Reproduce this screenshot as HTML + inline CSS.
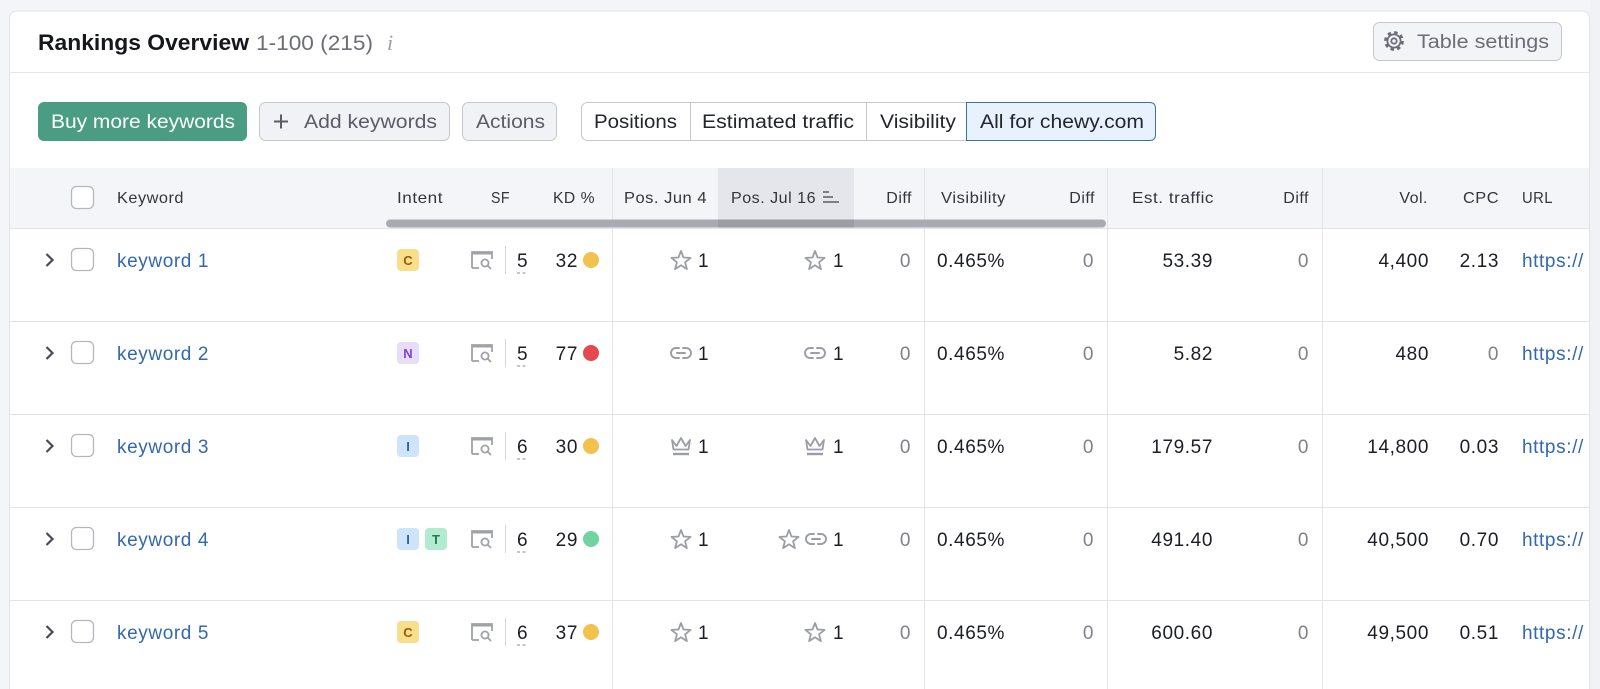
<!DOCTYPE html>
<html><head><meta charset="utf-8"><style>
html,body{margin:0;padding:0;background:#f4f5f8;}
svg{display:block;}
text{font-family:"Liberation Sans",Arial,sans-serif;}
.d{font-size:19px;fill:#1c1e26;letter-spacing:0.6px;}
.g{font-size:19px;fill:#80828b;letter-spacing:0.6px;}
.lnk{font-size:19px;fill:#3468ad;letter-spacing:0.6px;}
.h{font-size:16px;fill:#33353e;letter-spacing:0.5px;}
.b{font-size:19px;}
.bdg{font-size:13px;font-weight:bold;}
</style></head><body>
<svg width="1600" height="689" viewBox="0 0 1600 689" xmlns="http://www.w3.org/2000/svg">
<defs>
<g id="star"><polygon transform="translate(0,1)" points="0,-10 2.53,-3.48 9.51,-3.09 4.09,1.33 5.88,8.09 0,4.3 -5.88,8.09 -4.09,1.33 -9.51,-3.09 -2.53,-3.48" fill="none" stroke="#9c9ea6" stroke-width="1.8" stroke-linejoin="round"/></g>
<g id="link"><path d="M-2,-5 H-5 A5,5 0 0 0 -5,5 H-2 M2,-5 H5 A5,5 0 0 1 5,5 H2 M-4,0 H4" fill="none" stroke="#9c9ea6" stroke-width="1.9" stroke-linecap="round"/></g>
<g id="crown"><path d="M-9,-6 L-4.5,0 L0,-8 L4.5,0 L9,-6 L7.5,3.5 L-7.5,3.5 Z" fill="none" stroke="#9c9ea6" stroke-width="1.8" stroke-linejoin="round"/><path d="M-8,8 H8" stroke="#9c9ea6" stroke-width="2.4"/></g>
<g id="sf"><path d="M-10,8 V-8 H10 V-1" fill="none" stroke="#a0a2aa" stroke-width="1.8"/><path d="M-10,-7 H10" stroke="#a0a2aa" stroke-width="3"/><path d="M-10,8 H-3" stroke="#a0a2aa" stroke-width="1.8"/><circle cx="3" cy="3" r="3.6" fill="none" stroke="#a0a2aa" stroke-width="1.8"/><path d="M5.6,5.6 L8.5,8.5" stroke="#a0a2aa" stroke-width="1.8" stroke-linecap="round"/></g>
</defs>

<rect width="1600" height="689" fill="#f4f5f8"/>
<!-- card -->
<path d="M9.5,689 V19 Q9.5,11 17.5,11 H1581.5 Q1589.5,11 1589.5,19 V689" fill="#ffffff" stroke="#e2e3e8"/>

<!-- title -->
<text x="38" y="50" font-size="22.5" font-weight="bold" fill="#16171d" textLength="211" lengthAdjust="spacingAndGlyphs">Rankings Overview</text>
<text x="256" y="50" font-size="21" fill="#6c6e78" textLength="117" lengthAdjust="spacingAndGlyphs">1-100 (215)</text>
<text x="387" y="50" font-size="22" fill="#a0a2aa" font-style="italic" style="font-family:'Liberation Serif',serif">i</text>

<!-- table settings -->
<rect x="1373.5" y="22.5" width="188" height="38" rx="6" fill="#f3f4f7" stroke="#c6c8ce"/>
<circle cx="1394" cy="41" r="8.3" fill="none" stroke="#6b6d77" stroke-width="3.2" stroke-dasharray="3.4 3.1"/>
<circle cx="1394" cy="41" r="6.6" fill="none" stroke="#6b6d77" stroke-width="1.8"/>
<circle cx="1394" cy="41" r="2.7" fill="none" stroke="#6b6d77" stroke-width="1.8"/>
<text x="1417" y="48" class="b" fill="#6b6d77" textLength="132" lengthAdjust="spacingAndGlyphs">Table settings</text>

<line x1="10" y1="72.5" x2="1589" y2="72.5" stroke="#e6e7eb"/>

<!-- buttons -->
<rect x="38" y="102" width="209" height="39" rx="6" fill="#4a9d82"/>
<text x="51" y="128" class="b" fill="#ffffff" textLength="184" lengthAdjust="spacingAndGlyphs">Buy more keywords</text>

<rect x="259.5" y="102.5" width="190" height="38" rx="6" fill="#f1f2f5" stroke="#c6c8ce"/>
<path d="M274,121.5 H288 M281,114.5 V128.5" stroke="#5a5c66" stroke-width="2"/>
<text x="304" y="128" class="b" fill="#5a5c66" textLength="133" lengthAdjust="spacingAndGlyphs">Add keywords</text>

<rect x="462.5" y="102.5" width="94" height="38" rx="6" fill="#f1f2f5" stroke="#c6c8ce"/>
<text x="476" y="128" class="b" fill="#5a5c66" textLength="69" lengthAdjust="spacingAndGlyphs">Actions</text>

<rect x="581.5" y="102.5" width="574" height="38" rx="6" fill="#ffffff" stroke="#c6c8ce"/>
<line x1="690.5" y1="103" x2="690.5" y2="140" stroke="#c6c8ce"/>
<line x1="866.5" y1="103" x2="866.5" y2="140" stroke="#c6c8ce"/>
<path d="M966.5,102.5 H1149.5 Q1155.5,102.5 1155.5,108.5 V134.5 Q1155.5,140.5 1149.5,140.5 H966.5 Z" fill="#e8f2fe" stroke="#3d6fae"/>
<text x="594" y="128" class="b" fill="#24262e" textLength="83" lengthAdjust="spacingAndGlyphs">Positions</text>
<text x="702" y="128" class="b" fill="#24262e" textLength="152" lengthAdjust="spacingAndGlyphs">Estimated traffic</text>
<text x="880" y="128" class="b" fill="#24262e" textLength="76" lengthAdjust="spacingAndGlyphs">Visibility</text>
<text x="980" y="128" class="b" fill="#24262e" textLength="164" lengthAdjust="spacingAndGlyphs">All for chewy.com</text>

<!-- table header -->
<rect x="10" y="168" width="1579" height="60" fill="#f4f5f9"/>
<rect x="718" y="168" width="136" height="60" fill="#e5e6eb"/>
<rect x="71.5" y="186.5" width="22" height="22" rx="5" fill="#ffffff" stroke="#b5b7be" stroke-width="1.3"/>
<text x="117" y="203" class="h" textLength="67" lengthAdjust="spacingAndGlyphs">Keyword</text>
<text x="397" y="203" class="h" textLength="46" lengthAdjust="spacingAndGlyphs">Intent</text>
<text x="491" y="203" class="h" textLength="19" lengthAdjust="spacingAndGlyphs">SF</text>
<text x="553" y="203" class="h" textLength="42" lengthAdjust="spacingAndGlyphs">KD %</text>
<text x="624" y="203" class="h" textLength="83" lengthAdjust="spacingAndGlyphs">Pos. Jun 4</text>
<text x="731" y="203" class="h" textLength="85" lengthAdjust="spacingAndGlyphs">Pos. Jul 16</text>
<path d="M823,192 H829 M823,197 H833 M823,202 H839" stroke="#7d7f88" stroke-width="2"/>
<text x="912" y="203" class="h" text-anchor="end">Diff</text>
<text x="941" y="203" class="h" textLength="65" lengthAdjust="spacingAndGlyphs">Visibility</text>
<text x="1095" y="203" class="h" text-anchor="end">Diff</text>
<text x="1132" y="203" class="h" textLength="82" lengthAdjust="spacingAndGlyphs">Est. traffic</text>
<text x="1309" y="203" class="h" text-anchor="end">Diff</text>
<text x="1428" y="203" class="h" text-anchor="end">Vol.</text>
<text x="1463" y="203" class="h" textLength="36" lengthAdjust="spacingAndGlyphs">CPC</text>
<text x="1522" y="203" class="h" textLength="31" lengthAdjust="spacingAndGlyphs">URL</text>

<!-- grid lines -->
<g stroke="#e3e4e8" stroke-width="1">
<line x1="612.5" y1="168" x2="612.5" y2="689"/>
<line x1="924.5" y1="168" x2="924.5" y2="689"/>
<line x1="1107.5" y1="168" x2="1107.5" y2="689"/>
<line x1="1322.5" y1="168" x2="1322.5" y2="689"/>
<line x1="10" y1="228.5" x2="1589" y2="228.5"/>
<line x1="10" y1="321.5" x2="1589" y2="321.5"/>
<line x1="10" y1="414.5" x2="1589" y2="414.5"/>
<line x1="10" y1="507.5" x2="1589" y2="507.5"/>
<line x1="10" y1="600.5" x2="1589" y2="600.5"/>
</g>

<!-- scrollbar -->
<rect x="386" y="219.5" width="720" height="8" rx="4" fill="#a9abb2"/>
<rect x="718" y="219.5" width="136" height="8" fill="#9c9ea5"/>

<!-- ROW 1 (c=260) -->
<g>
<path d="M46.5,254 L52.5,260 L46.5,266" fill="none" stroke="#4a4c55" stroke-width="2.2"/>
<rect x="71.5" y="248.5" width="22" height="22" rx="5" fill="#fff" stroke="#b5b7be" stroke-width="1.3"/>
<text x="117" y="267" class="lnk">keyword 1</text>
<rect x="397" y="249" width="22" height="22" rx="4" fill="#f9df8c"/><text x="408" y="265" text-anchor="middle" class="bdg" fill="#8f5e10">C</text>
<use href="#sf" x="482" y="260"/>
<line x1="505.5" y1="246" x2="505.5" y2="274" stroke="#d5d6db"/>
<text x="517" y="267" class="d" fill="#555">5</text><line x1="517" y1="273" x2="528" y2="273" stroke="#8a8c94" stroke-dasharray="3,2.5"/>
<text x="578" y="267" class="d" text-anchor="end">32</text><circle cx="591" cy="260" r="8" fill="#f2c14e"/>
<use href="#star" x="681" y="260"/><text x="698" y="267" class="d">1</text>
<use href="#star" x="815" y="260"/><text x="833" y="267" class="d">1</text>
<text x="911" y="267" class="g" text-anchor="end">0</text>
<text x="937" y="267" class="d">0.465%</text>
<text x="1094" y="267" class="g" text-anchor="end">0</text>
<text x="1213" y="267" class="d" text-anchor="end">53.39</text>
<text x="1309" y="267" class="g" text-anchor="end">0</text>
<text x="1429" y="267" class="d" text-anchor="end">4,400</text>
<text x="1499" y="267" class="d" text-anchor="end">2.13</text>
<text x="1522" y="267" class="lnk">https://</text>
</g>

<!-- ROW 2 (c=353) -->
<g>
<path d="M46.5,347 L52.5,353 L46.5,359" fill="none" stroke="#4a4c55" stroke-width="2.2"/>
<rect x="71.5" y="341.5" width="22" height="22" rx="5" fill="#fff" stroke="#b5b7be" stroke-width="1.3"/>
<text x="117" y="360" class="lnk">keyword 2</text>
<rect x="397" y="342" width="22" height="22" rx="4" fill="#e8dcfb"/><text x="408" y="358" text-anchor="middle" class="bdg" fill="#7a45d0">N</text>
<use href="#sf" x="482" y="353"/>
<line x1="505.5" y1="339" x2="505.5" y2="367" stroke="#d5d6db"/>
<text x="517" y="360" class="d" fill="#555">5</text><line x1="517" y1="366" x2="528" y2="366" stroke="#8a8c94" stroke-dasharray="3,2.5"/>
<text x="578" y="360" class="d" text-anchor="end">77</text><circle cx="591" cy="353" r="8" fill="#e5484d"/>
<use href="#link" x="681" y="353"/><text x="698" y="360" class="d">1</text>
<use href="#link" x="815" y="353"/><text x="833" y="360" class="d">1</text>
<text x="911" y="360" class="g" text-anchor="end">0</text>
<text x="937" y="360" class="d">0.465%</text>
<text x="1094" y="360" class="g" text-anchor="end">0</text>
<text x="1213" y="360" class="d" text-anchor="end">5.82</text>
<text x="1309" y="360" class="g" text-anchor="end">0</text>
<text x="1429" y="360" class="d" text-anchor="end">480</text>
<text x="1499" y="360" class="g" text-anchor="end">0</text>
<text x="1522" y="360" class="lnk">https://</text>
</g>

<!-- ROW 3 (c=446) -->
<g>
<path d="M46.5,440 L52.5,446 L46.5,452" fill="none" stroke="#4a4c55" stroke-width="2.2"/>
<rect x="71.5" y="434.5" width="22" height="22" rx="5" fill="#fff" stroke="#b5b7be" stroke-width="1.3"/>
<text x="117" y="453" class="lnk">keyword 3</text>
<rect x="397" y="435" width="22" height="22" rx="4" fill="#cde4fa"/><text x="408" y="451" text-anchor="middle" class="bdg" fill="#2c62a8">I</text>
<use href="#sf" x="482" y="446"/>
<line x1="505.5" y1="432" x2="505.5" y2="460" stroke="#d5d6db"/>
<text x="517" y="453" class="d" fill="#555">6</text><line x1="517" y1="459" x2="528" y2="459" stroke="#8a8c94" stroke-dasharray="3,2.5"/>
<text x="578" y="453" class="d" text-anchor="end">30</text><circle cx="591" cy="446" r="8" fill="#f2c14e"/>
<use href="#crown" x="681" y="446"/><text x="698" y="453" class="d">1</text>
<use href="#crown" x="815" y="446"/><text x="833" y="453" class="d">1</text>
<text x="911" y="453" class="g" text-anchor="end">0</text>
<text x="937" y="453" class="d">0.465%</text>
<text x="1094" y="453" class="g" text-anchor="end">0</text>
<text x="1213" y="453" class="d" text-anchor="end">179.57</text>
<text x="1309" y="453" class="g" text-anchor="end">0</text>
<text x="1429" y="453" class="d" text-anchor="end">14,800</text>
<text x="1499" y="453" class="d" text-anchor="end">0.03</text>
<text x="1522" y="453" class="lnk">https://</text>
</g>

<!-- ROW 4 (c=539) -->
<g>
<path d="M46.5,533 L52.5,539 L46.5,545" fill="none" stroke="#4a4c55" stroke-width="2.2"/>
<rect x="71.5" y="527.5" width="22" height="22" rx="5" fill="#fff" stroke="#b5b7be" stroke-width="1.3"/>
<text x="117" y="546" class="lnk">keyword 4</text>
<rect x="397" y="528" width="22" height="22" rx="4" fill="#cde4fa"/><text x="408" y="544" text-anchor="middle" class="bdg" fill="#2c62a8">I</text>
<rect x="425" y="528" width="22" height="22" rx="4" fill="#b2ebcf"/><text x="436" y="544" text-anchor="middle" class="bdg" fill="#257a50">T</text>
<use href="#sf" x="482" y="539"/>
<line x1="505.5" y1="525" x2="505.5" y2="553" stroke="#d5d6db"/>
<text x="517" y="546" class="d" fill="#555">6</text><line x1="517" y1="552" x2="528" y2="552" stroke="#8a8c94" stroke-dasharray="3,2.5"/>
<text x="578" y="546" class="d" text-anchor="end">29</text><circle cx="591" cy="539" r="8" fill="#6fd4a0"/>
<use href="#star" x="681" y="539"/><text x="698" y="546" class="d">1</text>
<use href="#star" x="789" y="539"/><use href="#link" x="816" y="539"/><text x="833" y="546" class="d">1</text>
<text x="911" y="546" class="g" text-anchor="end">0</text>
<text x="937" y="546" class="d">0.465%</text>
<text x="1094" y="546" class="g" text-anchor="end">0</text>
<text x="1213" y="546" class="d" text-anchor="end">491.40</text>
<text x="1309" y="546" class="g" text-anchor="end">0</text>
<text x="1429" y="546" class="d" text-anchor="end">40,500</text>
<text x="1499" y="546" class="d" text-anchor="end">0.70</text>
<text x="1522" y="546" class="lnk">https://</text>
</g>

<!-- ROW 5 (c=632) -->
<g>
<path d="M46.5,626 L52.5,632 L46.5,638" fill="none" stroke="#4a4c55" stroke-width="2.2"/>
<rect x="71.5" y="620.5" width="22" height="22" rx="5" fill="#fff" stroke="#b5b7be" stroke-width="1.3"/>
<text x="117" y="639" class="lnk">keyword 5</text>
<rect x="397" y="621" width="22" height="22" rx="4" fill="#f9df8c"/><text x="408" y="637" text-anchor="middle" class="bdg" fill="#8f5e10">C</text>
<use href="#sf" x="482" y="632"/>
<line x1="505.5" y1="618" x2="505.5" y2="646" stroke="#d5d6db"/>
<text x="517" y="639" class="d" fill="#555">6</text><line x1="517" y1="645" x2="528" y2="645" stroke="#8a8c94" stroke-dasharray="3,2.5"/>
<text x="578" y="639" class="d" text-anchor="end">37</text><circle cx="591" cy="632" r="8" fill="#f2c14e"/>
<use href="#star" x="681" y="632"/><text x="698" y="639" class="d">1</text>
<use href="#star" x="815" y="632"/><text x="833" y="639" class="d">1</text>
<text x="911" y="639" class="g" text-anchor="end">0</text>
<text x="937" y="639" class="d">0.465%</text>
<text x="1094" y="639" class="g" text-anchor="end">0</text>
<text x="1213" y="639" class="d" text-anchor="end">600.60</text>
<text x="1309" y="639" class="g" text-anchor="end">0</text>
<text x="1429" y="639" class="d" text-anchor="end">49,500</text>
<text x="1499" y="639" class="d" text-anchor="end">0.51</text>
<text x="1522" y="639" class="lnk">https://</text>
</g>

<!-- right edge overlay -->
<rect x="1590" y="0" width="10" height="689" fill="#f1f2f6"/>
<line x1="1589.5" y1="19" x2="1589.5" y2="689" stroke="#e2e3e8"/>
</svg>
</body></html>
